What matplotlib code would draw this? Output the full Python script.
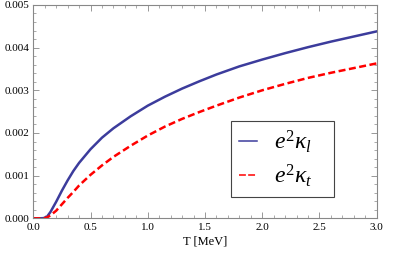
import matplotlib.pyplot as plt
from matplotlib.lines import Line2D
from matplotlib.patches import Rectangle
from matplotlib.ticker import MultipleLocator

T = [0.0, 0.05, 0.09, 0.12, 0.15, 0.2, 0.25, 0.3, 0.35, 0.4, 0.5, 0.6, 0.7, 0.85,
     1.0, 1.15, 1.3, 1.45, 1.6, 1.8, 2.0, 2.2, 2.4, 2.6, 2.8, 3.0]
kappa_l = [0.0, 0.0, 0.000005, 0.00004, 0.00015, 0.00039, 0.00065, 0.00089, 0.00111,
           0.0013, 0.00162, 0.00189, 0.00211, 0.00239, 0.00264, 0.00285, 0.00304,
           0.00321, 0.00337, 0.00356, 0.00372, 0.00387, 0.00401, 0.00414, 0.00426,
           0.00438]
kappa_t = [0.0, 0.0, 0.0, 0.00002, 0.00007, 0.00018, 0.00033, 0.00048, 0.00062,
           0.00077, 0.00102, 0.00124, 0.00144, 0.0017, 0.00194, 0.00215, 0.00233,
           0.00249, 0.00264, 0.00283, 0.003, 0.00315, 0.00329, 0.00341, 0.00352,
           0.00363]

blue = '#3c3c9c'
red = '#ff0000'

plt.rcParams['font.family'] = ['Liberation Serif', 'DejaVu Serif']
plt.rcParams['mathtext.fontset'] = 'custom'
plt.rcParams['mathtext.it'] = 'Liberation Serif:italic'
plt.rcParams['mathtext.rm'] = 'Liberation Serif'

W, H = 415, 259
fig = plt.figure(figsize=(W / 100, H / 100), dpi=100)
ax = fig.add_axes([0.0803, 0.157, 0.8274, 0.824])

ax.plot(T, kappa_l, color=blue, lw=1.8)
ax.plot(T, kappa_t, color=red, lw=1.8, dashes=(2.8, 1.4))

ax.set_xlim(0, 3.0)
ax.set_ylim(0, 0.005)
ax.xaxis.set_major_locator(MultipleLocator(0.5))
ax.xaxis.set_minor_locator(MultipleLocator(0.1))
ax.yaxis.set_major_locator(MultipleLocator(0.001))
ax.yaxis.set_minor_locator(MultipleLocator(0.0002))
ax.xaxis.set_major_formatter(plt.FuncFormatter(lambda v, p: f"{v:.1f}"))
ax.yaxis.set_major_formatter(plt.FuncFormatter(lambda v, p: f"{v:.3f}"))
ax.tick_params(which='both', direction='in', top=True, right=True, color='#888888',
               labelsize=8, pad=3)
ax.tick_params(which='major', length=4, width=0.6)
ax.tick_params(which='minor', length=2, width=0.5)
for s in ax.spines.values():
    s.set_color('#888888')
    s.set_linewidth(0.8)

ax.set_xlabel('T [MeV]', fontsize=9, labelpad=3)

# legend handles are thinner/shorter than the curves, like the original
handles = [Line2D([], [], color=blue, lw=1.1),
           Line2D([], [], color=red, lw=1.1, dashes=(4.5, 1.5))]
labels = [r'$e^2\kappa_l$', r'$e^2\kappa_t$']
leg = ax.legend(handles, labels, loc='upper left',
                bbox_to_anchor=(231 / W, 1 - 120.7 / H),
                bbox_transform=fig.transFigure, fontsize=17, frameon=False,
                handlelength=0.78, handletextpad=0.72,
                borderpad=0.32, labelspacing=0.32, borderaxespad=0)
leg.set_zorder(6)
# wider box than matplotlib would make (extra room on the right)
box = Rectangle((231 / W, 1 - 196.7 / H), 103 / W, 76 / H, transform=fig.transFigure,
                facecolor='white', edgecolor='#444444', lw=0.8, zorder=5,
                clip_on=False)
ax.add_patch(box)

fig.savefig('out.png', dpi=100)
